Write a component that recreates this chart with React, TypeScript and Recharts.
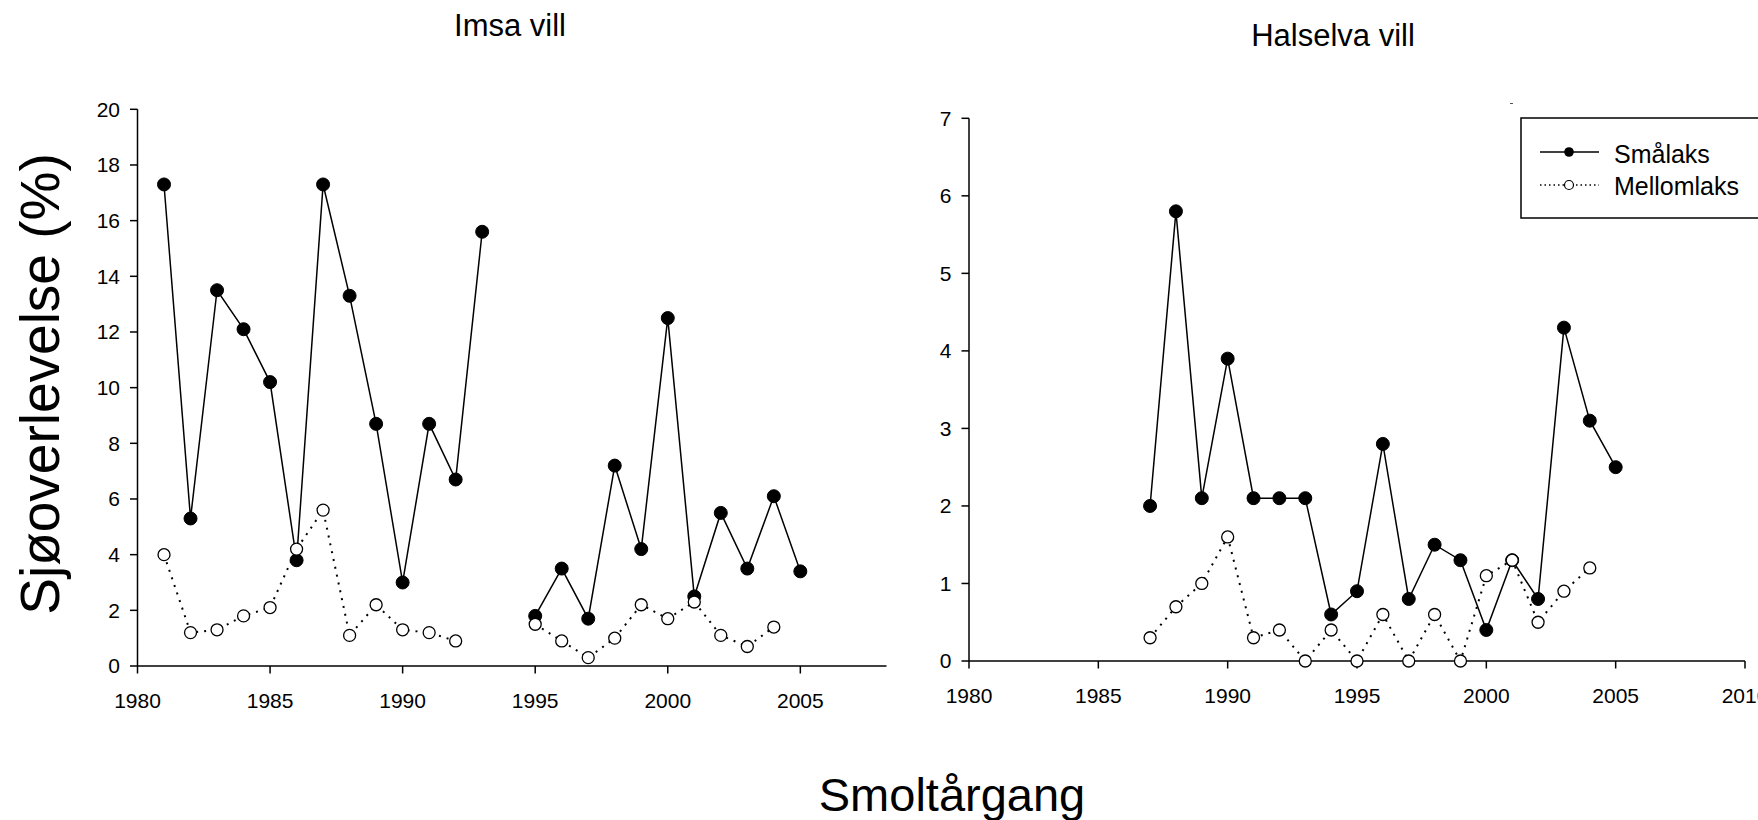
import { LineChart, Line, XAxis, YAxis } from 'recharts';

// Imsa vill
const imsaYears = [1981, 1982, 1983, 1984, 1985, 1986, 1987, 1988, 1989, 1990, 1991, 1992, 1993, 1994, 1995, 1996, 1997, 1998, 1999, 2000, 2001, 2002, 2003, 2004, 2005];
const imsaSmalaks = [17.3, 5.3, 13.5, 12.1, 10.2, 3.8, 17.3, 13.3, 8.7, 3.0, 8.7, 6.7, 15.6, null, 1.8, 3.5, 1.7, 7.2, 4.2, 12.5, 2.5, 5.5, 3.5, 6.1, 3.4];
const imsaMellomlaks = [4.0, 1.2, 1.3, 1.8, 2.1, 4.2, 5.6, 1.1, 2.2, 1.3, 1.2, 0.9, null, null, 1.5, 0.9, 0.3, 1.0, 2.2, 1.7, 2.3, 1.1, 0.7, 1.4, null];

// Halselva vill
const halsYears = [1987, 1988, 1989, 1990, 1991, 1992, 1993, 1994, 1995, 1996, 1997, 1998, 1999, 2000, 2001, 2002, 2003, 2004, 2005];
const halsSmalaks = [2.0, 5.8, 2.1, 3.9, 2.1, 2.1, 2.1, 0.6, 0.9, 2.8, 0.8, 1.5, 1.3, 0.4, 1.3, 0.8, 4.3, 3.1, 2.5];
const halsMellomlaks = [0.3, 0.7, 1.0, 1.6, 0.3, 0.4, 0.0, 0.4, 0.0, 0.6, 0.0, 0.6, 0.0, 1.1, 1.3, 0.5, 0.9, 1.2, null];

const imsaXTicks = [1980, 1985, 1990, 1995, 2000, 2005];
const halsXTicks = [1980, 1985, 1990, 1995, 2000, 2005, 2010];
const imsaYTicks = [0, 2, 4, 6, 8, 10, 12, 14, 16, 18, 20];
const halsYTicks = [0, 1, 2, 3, 4, 5, 6, 7];

const FONT = '"Liberation Sans", Arial, Helvetica, sans-serif';

const buildRows = (years: number[], small: (number | null)[], mid: (number | null)[]) =>
  years.map((year, i) => ({ year, small: small[i], mid: mid[i] }));

const imsaData = buildRows(imsaYears, imsaSmalaks, imsaMellomlaks);
const halsData = buildRows(halsYears, halsSmalaks, halsMellomlaks);

const axisProps = {
  stroke: '#000',
  strokeWidth: 1.5,
  tickSize: 7.5,
  tick: { fill: '#000', fontSize: 21, fontFamily: FONT },
};

interface PanelProps {
  data: any[];
  xDomain: [number, number];
  xTicks: number[];
  yDomain: [number, number];
  yTicks: number[];
  width: number;
  margin: { top: number; right: number; bottom: number; left: number };
  yAxisWidth: number;
}

const Panel = ({ data, xDomain, xTicks, yDomain, yTicks, width, margin, yAxisWidth }: PanelProps) => (
  <LineChart width={width} height={720} data={data} margin={margin}>
    <XAxis
      dataKey="year"
      type="number"
      domain={xDomain}
      ticks={xTicks}
      allowDataOverflow
      height={40}
      tickMargin={20}
      interval={0}
      {...axisProps}
    />
    <YAxis
      type="number"
      domain={yDomain}
      ticks={yTicks}
      width={yAxisWidth}
      tickMargin={10}
      interval={0}
      {...axisProps}
    />
    <Line
      dataKey="small"
      type="linear"
      stroke="#000"
      strokeWidth={1.5}
      dot={{ r: 6.5, fill: '#000', stroke: '#000', strokeWidth: 1 }}
      activeDot={false}
      connectNulls={false}
      isAnimationActive={false}
    />
    <Line
      dataKey="mid"
      type="linear"
      stroke="#000"
      strokeWidth={2}
      strokeDasharray="2 6"
      dot={{ r: 6, fill: '#fff', stroke: '#000', strokeWidth: 1.3, strokeDasharray: '' }}
      activeDot={false}
      connectNulls={false}
      isAnimationActive={false}
    />
  </LineChart>
);

export default function App() {
  return (
    <div
      style={{
        position: 'absolute',
        left: 0,
        top: 0,
        width: 1758,
        height: 820,
        overflow: 'hidden',
        background: '#fff',
        fontFamily: FONT,
      }}
    >
      <div style={{ position: 'absolute', left: 0, top: 0 }}>
        <Panel
          data={imsaData}
          xDomain={[1980, 2008.25]}
          xTicks={imsaXTicks}
          yDomain={[0, 20]}
          yTicks={imsaYTicks}
          width={900}
          margin={{ top: 109.3, right: 13.5, bottom: 14, left: 67.5 }}
          yAxisWidth={70}
        />
      </div>
      <div style={{ position: 'absolute', left: 900, top: 0 }}>
        <Panel
          data={halsData}
          xDomain={[1980, 2010]}
          xTicks={halsXTicks}
          yDomain={[0, 7]}
          yTicks={halsYTicks}
          width={858}
          margin={{ top: 118.3, right: 13, bottom: 19, left: 9 }}
          yAxisWidth={60}
        />
      </div>
      <svg
        width={1758}
        height={820}
        style={{ position: 'absolute', left: 0, top: 0, pointerEvents: 'none' }}
        fontFamily={FONT}
      >
        <text x={510} y={36} textAnchor="middle" fontSize={31} fill="#000">Imsa vill</text>
        <text x={1333} y={46} textAnchor="middle" fontSize={31} fill="#000">Halselva vill</text>
        <text x={952} y={811} textAnchor="middle" fontSize={47} fill="#000">Smoltårgang</text>
        <text transform="translate(59,384) rotate(-90)" textAnchor="middle" fontSize={55} fill="#000">
          Sjøoverlevelse (%)
        </text>
        <line x1={1510} y1={103.5} x2={1513} y2={103.5} stroke="#555" strokeWidth={1} />
        <rect x={1521} y={118} width={260} height={100} fill="#fff" stroke="#000" strokeWidth={1.5} />
        <line x1={1540} y1={152} x2={1599} y2={152} stroke="#000" strokeWidth={1.5} />
        <circle cx={1569} cy={152} r={4.8} fill="#000" />
        <text x={1614} y={163} fontSize={25} fill="#000">Smålaks</text>
        <line x1={1540} y1={185} x2={1599} y2={185} stroke="#000" strokeWidth={1.5} strokeDasharray="1.5 3" />
        <circle cx={1569} cy={185} r={4.5} fill="#fff" stroke="#000" strokeWidth={1.2} />
        <text x={1614} y={195} fontSize={25} fill="#000">Mellomlaks</text>
      </svg>
    </div>
  );
}
